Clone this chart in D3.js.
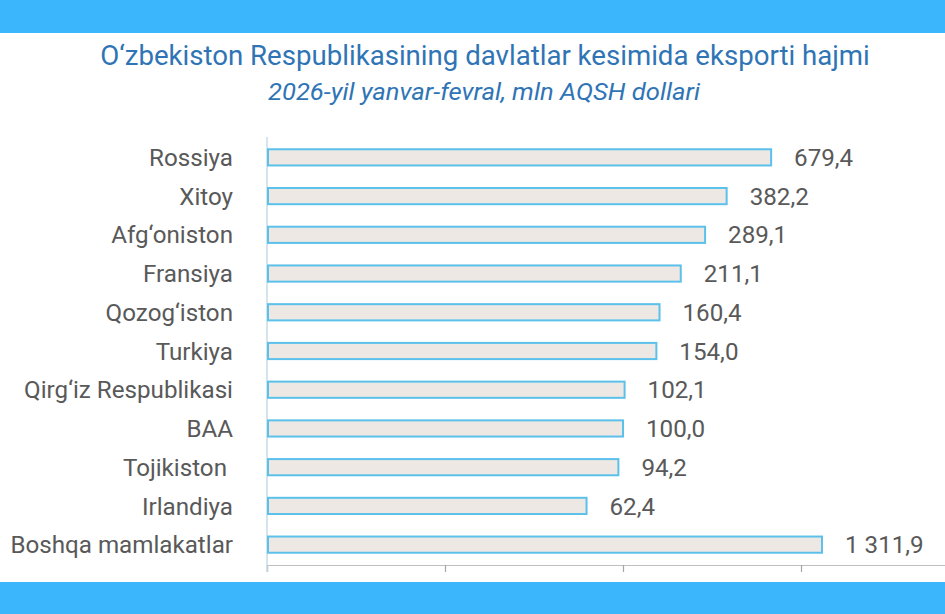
<!DOCTYPE html>
<html><head><meta charset="utf-8">
<script src="https://cdn.jsdelivr.net/npm/d3@7"></script>
<style>body{margin:0;background:#fff;overflow:hidden}svg{display:block}text{white-space:pre}</style>
</head><body>
<svg id="c" width="945" height="614"></svg>
<script>
const categories = ["Rossiya","Xitoy","Afg‘oniston","Fransiya","Qozog‘iston","Turkiya","Qirg‘iz Respublikasi","BAA","Tojikiston ","Irlandiya","Boshqa mamlakatlar"];
const values = [679.4,382.2,289.1,211.1,160.4,154.0,102.1,100.0,94.2,62.4,1311.9];
const valueLabels = ["679,4","382,2","289,1","211,1","160,4","154,0","102,1","100,0","94,2","62,4","1 311,9"];
const tickValues = [1,10,100,1000,10000];
const title = "O‘zbekiston Respublikasining davlatlar kesimida eksporti hajmi";
const subtitle = "2026-yil yanvar-fevral, mln AQSH dollari";

const svg = d3.select("#c");
const font = "Roboto, 'Liberation Sans', sans-serif";
svg.append("rect").attr("x",0).attr("y",0).attr("width",945).attr("height",33).attr("fill","#3bb6fd");
svg.append("rect").attr("x",0).attr("y",582).attr("width",945).attr("height",32).attr("fill","#3bb6fd");

function squeeze(sel, targetW, cx){
  const w = sel.node().getComputedTextLength();
  const k = targetW / w;
  sel.attr("transform",`translate(${cx},0) scale(${k},1) translate(${-cx},0)`);
}
const t1 = svg.append("text").attr("x",485).attr("y",65).attr("text-anchor","middle")
  .attr("font-family",font).attr("font-size",27).attr("fill","#2f74b5").text(title);
const t2 = svg.append("text").attr("x",484).attr("y",100).attr("text-anchor","middle")
  .attr("font-family",font).attr("font-size",23).attr("font-style","italic").attr("fill","#2f74b5").text(subtitle);
squeeze(t1, 770, 485);
squeeze(t2, 432, 484);

const x = d3.scaleLog().domain([1,10000]).range([267,979]);
const y = d3.scaleBand().domain(categories).range([138,564]).paddingInner(0.53).paddingOuter(0.265);

const gx = svg.append("g").attr("transform","translate(0,565)")
  .call(d3.axisBottom(x).tickValues(tickValues).tickSize(7).tickFormat(""));
gx.select(".domain").attr("stroke","#bfbfbf").attr("stroke-width",1.2);
gx.selectAll(".tick line").attr("stroke","#a6a6a6").attr("stroke-width",1.2);

svg.append("line").attr("x1",267).attr("x2",267).attr("y1",137).attr("y2",572)
  .attr("stroke","#c9dde6").attr("stroke-width",1.5);

svg.append("g").selectAll("rect").data(categories).join("rect")
  .attr("x",x(1)+1).attr("y",d=>y(d)+1)
  .attr("width",(d,i)=>x(values[i])-x(1)-1).attr("height",y.bandwidth()-2)
  .attr("fill","#ede8e3").attr("stroke","#5cc1ea").attr("stroke-width",2);

const lab = svg.append("g");
lab.selectAll("text").data(categories).join("text")
  .attr("x",233).attr("y",d=>y(d)+y.bandwidth()/2).attr("dy","0.36em")
  .attr("text-anchor","end").attr("font-family",font).attr("font-size",24).attr("fill","#595959")
  .text(d=>d);
const ref = lab.selectAll("text").filter(d=>d==="Qirg‘iz Respublikasi");
const kLab = 209 / ref.node().getComputedTextLength();
lab.selectAll("text").attr("transform",`translate(233,0) scale(${kLab},1) translate(-233,0)`);

const vl = svg.append("g");
vl.selectAll("text").data(categories).join("text")
  .attr("x",(d,i)=>x(values[i])+23).attr("y",d=>y(d)+y.bandwidth()/2).attr("dy","0.36em")
  .attr("font-family",font).attr("font-size",24).attr("fill","#595959")
  .text((d,i)=>valueLabels[i])
  .each(function(d,i){
    const xx = x(values[i])+23;
    d3.select(this).attr("transform",`translate(${xx},0) scale(${kLab},1) translate(${-xx},0)`);
  });
</script>
</body></html>
